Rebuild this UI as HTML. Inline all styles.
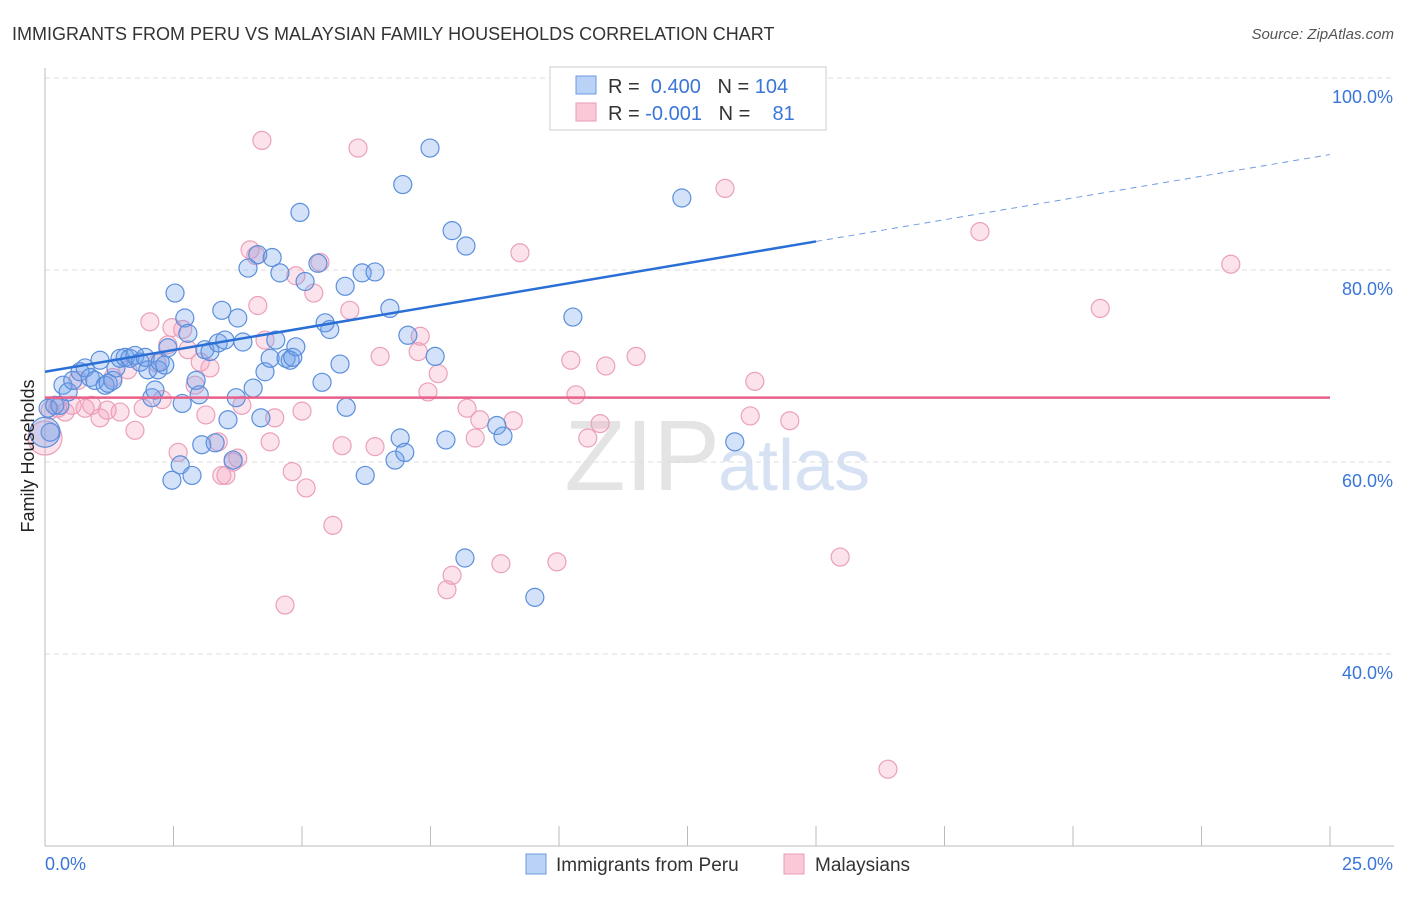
<!DOCTYPE html>
<html><head><meta charset="utf-8"><style>
body{margin:0;background:#fff;font-family:"Liberation Sans",sans-serif}
svg text{font-family:"Liberation Sans",sans-serif}
</style></head><body>
<svg id="chart" width="1406" height="892" viewBox="0 0 1406 892">
<text x="12" y="40" font-size="18" fill="#333">IMMIGRANTS FROM PERU VS MALAYSIAN FAMILY HOUSEHOLDS CORRELATION CHART</text>
<text x="1394" y="39" font-size="15" fill="#555" font-style="italic" text-anchor="end">Source: ZipAtlas.com</text>
<text x="720" y="490" font-size="100" fill="#e4e4e4" text-anchor="end" font-family="Liberation Serif">ZIP</text>
<text x="718" y="490" font-size="72" fill="#d6e2f3">atlas</text>
<g id="grid"></g><g id="axes"></g><g id="pink"></g><g id="blue"></g><g id="lines"></g>
<text transform="translate(34,456) rotate(-90)" font-size="18" fill="#222" text-anchor="middle">Family Households</text>
<g>
<rect x="550" y="67" width="276" height="63" fill="#fff" stroke="#ccc"/>
<rect x="576" y="76" width="20" height="18" fill="#b9d2f5" stroke="#6b9be0"/>
<rect x="576" y="103" width="20" height="18" fill="#f9c9d8" stroke="#ec9ab7"/>
<text x="608" y="93" font-size="20" fill="#333">R = <tspan fill="#3a75d8">&#160;0.400</tspan>&#160;&#160;&#160;N = <tspan fill="#3a75d8">104</tspan></text>
<text x="608" y="120" font-size="20" fill="#333">R = <tspan fill="#3a75d8">-0.001</tspan>&#160;&#160;&#160;N = <tspan fill="#3a75d8">&#160;&#160;&#160;81</tspan></text>
</g>
<g>
<rect x="526" y="854" width="20" height="20" fill="#b9d2f5" stroke="#6b9be0"/>
<text x="556" y="871" font-size="19" fill="#333">Immigrants from Peru</text>
<rect x="784" y="854" width="20" height="20" fill="#f9c9d8" stroke="#ec9ab7"/>
<text x="815" y="871" font-size="19" fill="#333">Malaysians</text>
</g>
</svg>
<script>
const blueX=[0.06,0.1,0.19,0.29,0.35,0.45,0.54,0.68,0.78,0.88,0.97,1.07,1.17,1.23,1.32,1.38,1.46,1.56,1.65,1.75,1.85,1.95,2.0,2.08,2.14,2.2,2.24,2.33,2.39,2.47,2.53,2.63,2.67,2.72,2.78,2.86,2.94,3.0,3.05,3.11,3.21,3.31,3.37,3.44,3.5,3.56,3.66,3.72,3.75,3.85,3.95,4.05,4.14,4.2,4.28,4.38,4.42,4.49,4.57,4.69,4.77,4.82,4.88,4.96,5.06,5.31,5.39,5.45,5.54,5.74,5.84,5.86,6.17,6.23,6.42,6.71,6.81,6.91,6.96,7.0,7.06,7.49,7.59,7.8,7.92,8.19,8.17,8.79,8.91,9.53,10.27,12.39,13.42,13.72,14.69,0.0];
const blueY=[65.6,63.1,65.9,65.9,68.0,67.3,68.5,69.4,69.8,68.8,68.5,70.6,68.0,68.2,68.5,69.8,70.8,70.9,70.8,71.1,70.4,70.9,69.6,66.7,67.5,69.6,70.4,70.1,71.9,58.1,77.6,59.7,66.1,75.0,73.4,58.6,68.5,67.0,61.8,71.7,71.5,62.0,72.4,75.8,72.7,64.4,60.2,66.7,75.0,72.5,80.2,67.7,81.6,64.6,69.4,70.8,81.3,72.7,79.7,70.8,70.6,70.9,72.0,86.0,78.8,80.7,68.3,74.5,73.8,70.2,78.3,65.7,79.7,58.6,79.8,76.0,60.2,62.5,88.9,61.0,73.2,92.7,71.0,62.3,84.1,82.5,50.0,63.8,62.7,45.9,75.1,87.5,62.1,99.8,99.8,63.1];
const pinkX=[0,0.1,0.25,0.39,0.53,0.64,0.78,0.91,1.07,1.21,1.32,1.46,1.61,1.75,1.91,2.04,2.18,2.28,2.39,2.47,2.59,2.68,2.78,2.92,3.02,3.13,3.21,3.37,3.44,3.52,3.66,3.75,3.83,3.99,4.1,4.14,4.22,4.28,4.38,4.47,4.67,4.81,4.88,5.0,5.08,5.23,5.35,5.6,5.78,5.93,6.09,6.42,6.52,7.26,7.3,7.45,7.65,7.82,7.92,8.21,8.37,8.46,8.87,9.11,9.24,9.96,10.23,10.33,10.56,10.8,10.91,11.5,13.23,13.72,13.81,14.49,15.47,16.4,18.19,20.53,23.07];
const pinkY=[62.5,65.4,65.6,65.2,65.9,68.5,65.6,65.9,64.6,65.4,68.8,65.2,69.6,63.3,65.6,74.6,70.3,66.5,72.2,74.0,61.0,73.8,71.7,68.0,70.4,64.9,69.8,62.1,58.6,58.6,60.0,60.4,65.9,82.1,81.5,76.3,93.5,72.7,62.1,64.6,45.1,59.0,79.4,65.3,57.3,77.6,80.8,53.4,61.7,75.8,92.7,61.6,71.0,71.5,73.1,67.3,69.2,46.7,48.2,65.6,62.5,64.4,49.4,64.3,81.8,49.6,70.6,67.0,62.5,64.0,70.0,71.0,88.5,64.8,68.4,64.3,50.1,28.0,84.0,76.0,80.6];
const blueTrend=[69.4,0.905];
const pinkTrend=[66.7,0];
const yTicks=[40,60,80,100];
const yTickLabels=["40.0%","60.0%","80.0%","100.0%"];
const xTickLabels=["0.0%","25.0%"];
const NS='http://www.w3.org/2000/svg';
const X0=45,X1=1330,Y0=846,Ytop=78;
const sx=v=>X0+(X1-X0)*v/25;
const sy=v=>Ytop+(100-v)*9.6;
function mk(tag,attrs,parent){const e=document.createElementNS(NS,tag);for(const k in attrs)e.setAttribute(k,attrs[k]);document.getElementById(parent).appendChild(e);return e;}
yTicks.forEach((t,i)=>{
 const g=mk('line',{x1:X0,x2:1394,y1:sy(t),y2:sy(t),stroke:'#ddd','stroke-dasharray':'5,4'},'grid');
 
 
 const l=mk('text',{x:1393,y:sy(t)+25,'font-size':18,fill:'#3a75d8','text-anchor':'end'},'axes');
 l.textContent=yTickLabels[i];
 
 
});
const ax=mk('line',{x1:X0,x2:1394,y1:Y0,y2:Y0,stroke:'#bbb'},'axes');


const ay=mk('line',{x1:X0,x2:X0,y1:68,y2:Y0,stroke:'#bbb'},'axes');


for(let i=0;i<=10;i++){const t=mk('line',{x1:sx(i*2.5),x2:sx(i*2.5),y1:826,y2:Y0,stroke:'#bbb'},'axes');
 
 }
[[0,'start',45],[25,'end',1393]].forEach((d,i)=>{const l=mk('text',{x:d[2],y:870,'font-size':18,fill:'#3a75d8','text-anchor':d[1]},'axes');l.textContent=xTickLabels[i];
 
 });
pinkX.forEach((x,i)=>{const c=mk('circle',{cx:sx(x),cy:sy(pinkY[i]),r:i==0?17:9,fill:'rgba(244,160,190,0.3)',stroke:'#eba0bb','stroke-width':1.2},'pink');
 
 });
blueX.forEach((x,i)=>{const c=mk('circle',{cx:sx(x),cy:sy(blueY[i]),r:i==blueX.length-1?15:9,fill:'rgba(110,160,235,0.3)',stroke:'#5b8fdc','stroke-width':1.2},'blue');
 
 });
const bs=mk('line',{x1:sx(0),y1:sy(blueTrend[0]),x2:sx(15),y2:sy(blueTrend[0]+blueTrend[1]*15),stroke:'#2a6fd6','stroke-width':2.5},'lines');


const bd=mk('line',{x1:sx(15),y1:sy(blueTrend[0]+blueTrend[1]*15),x2:sx(25),y2:sy(blueTrend[0]+blueTrend[1]*25),stroke:'#6c9be0','stroke-width':1,'stroke-dasharray':'6,5'},'lines');


const pl=mk('line',{x1:sx(0),y1:sy(pinkTrend[0]),x2:sx(25),y2:sy(pinkTrend[0]+pinkTrend[1]*25),stroke:'#e8608a','stroke-width':2.5},'lines');


</script>
</body></html>
